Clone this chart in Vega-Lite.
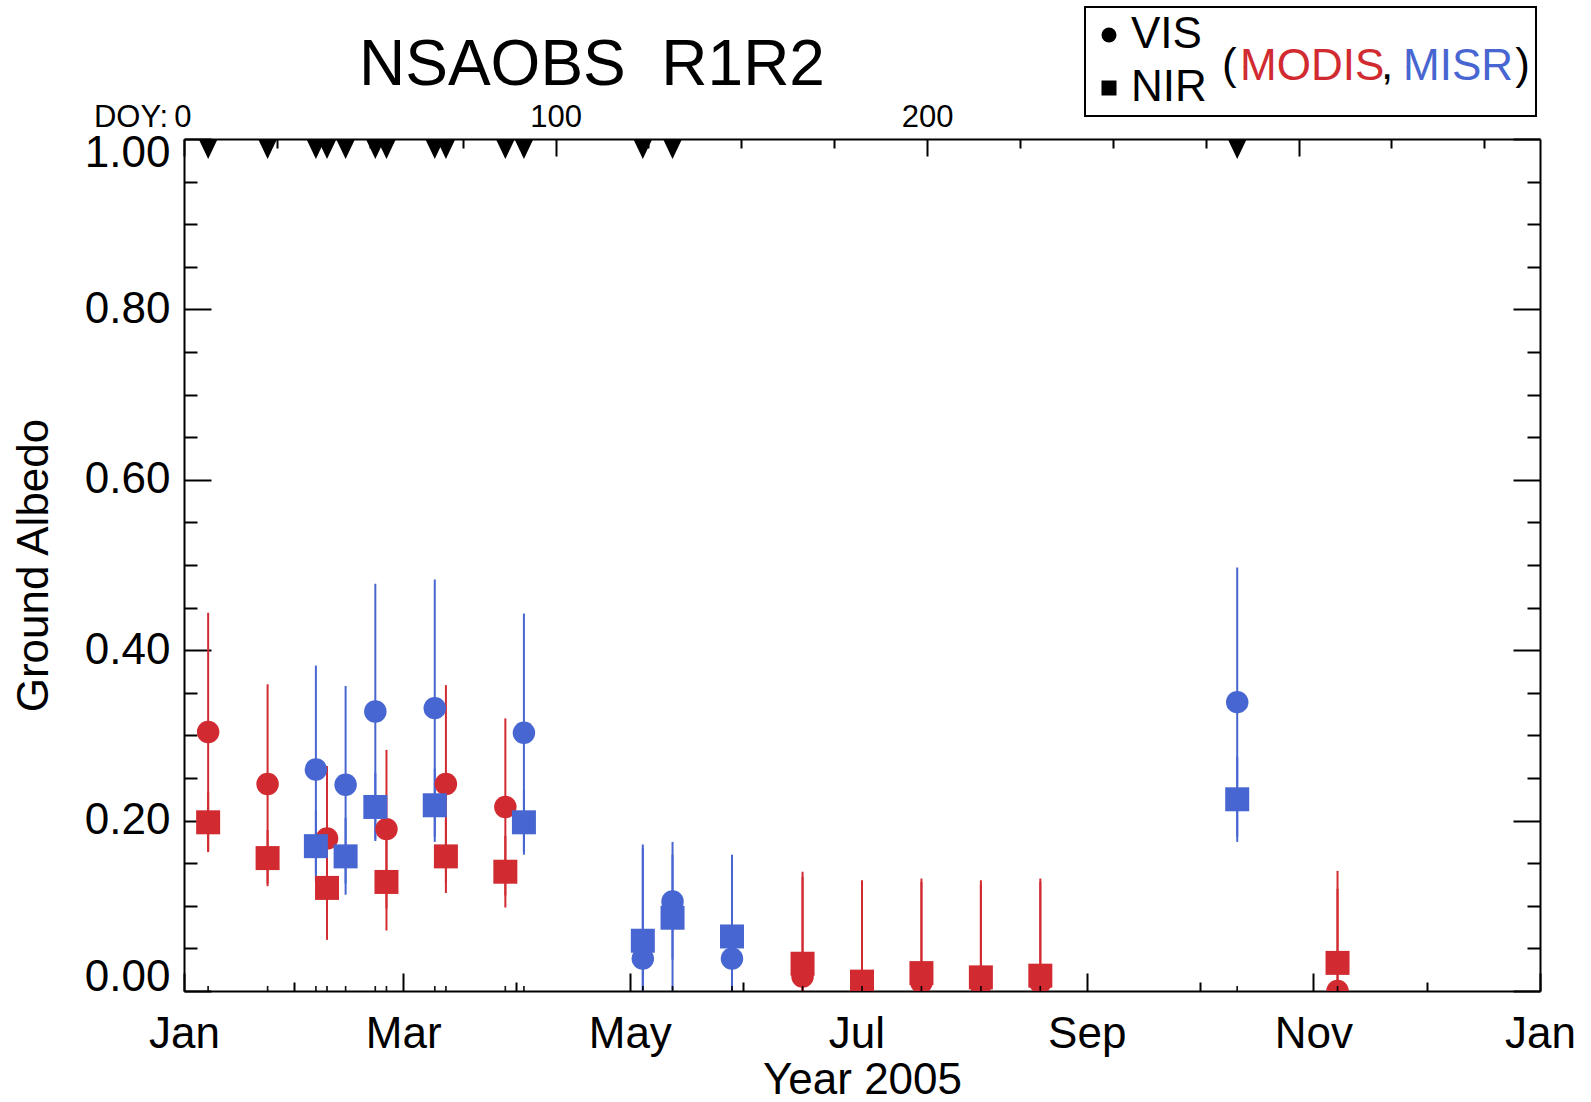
{
  "$schema": "https://vega.github.io/schema/vega-lite/v6.json",
  "width": 1356,
  "height": 852,
  "autosize": {"type": "none"},
  "padding": {"left": 184, "top": 139, "right": 51, "bottom": 111},
  "background": "white",
  "title": {
    "text": "NSAOBS \u00a0R1R2",
    "fontSize": 64,
    "font": "Liberation Sans",
    "fontWeight": "normal",
    "color": "black",
    "anchor": "start",
    "frame": "group",
    "dx": 175,
    "offset": -143,
    "baseline": "alphabetic"
  },
  "config": {
    "font": "Liberation Sans",
    "view": {"stroke": null},
    "axis": {
      "grid": false,
      "domainColor": "black",
      "domainWidth": 2,
      "tickColor": "black",
      "tickWidth": 2,
      "labelColor": "black",
      "labelFont": "Liberation Sans",
      "labelFontSize": 44,
      "labelOverlap": false,
      "labelBound": false,
      "titleColor": "black",
      "titleFont": "Liberation Sans",
      "titleFontSize": 44,
      "titleFontWeight": "normal"
    },
    "legend": {
      "symbolBaseFillColor": "black",
      "symbolBaseStrokeColor": "black",
      "strokeWidth": 2
    }
  },
  "datasets": {
    "obs": [
      {"doy": 6.5, "sensor": "MODIS", "band": "VIS", "val": 0.304, "lo": 0.164, "hi": 0.444},
      {"doy": 22.5, "sensor": "MODIS", "band": "VIS", "val": 0.243, "lo": 0.126, "hi": 0.360},
      {"doy": 38.5, "sensor": "MODIS", "band": "VIS", "val": 0.179, "lo": 0.094, "hi": 0.264},
      {"doy": 54.5, "sensor": "MODIS", "band": "VIS", "val": 0.190, "lo": 0.097, "hi": 0.283},
      {"doy": 70.5, "sensor": "MODIS", "band": "VIS", "val": 0.243, "lo": 0.127, "hi": 0.359},
      {"doy": 86.5, "sensor": "MODIS", "band": "VIS", "val": 0.216, "lo": 0.112, "hi": 0.320},
      {"doy": 166.5, "sensor": "MODIS", "band": "VIS", "val": 0.017, "lo": -0.100, "hi": 0.134},
      {"doy": 182.5, "sensor": "MODIS", "band": "VIS", "val": 0.005, "lo": -0.110, "hi": 0.120},
      {"doy": 198.5, "sensor": "MODIS", "band": "VIS", "val": 0.010, "lo": -0.110, "hi": 0.128},
      {"doy": 214.5, "sensor": "MODIS", "band": "VIS", "val": 0.008, "lo": -0.110, "hi": 0.125},
      {"doy": 230.5, "sensor": "MODIS", "band": "VIS", "val": 0.010, "lo": -0.110, "hi": 0.128},
      {"doy": 310.5, "sensor": "MODIS", "band": "VIS", "val": 0.000, "lo": -0.120, "hi": 0.120},
      {"doy": 6.5, "sensor": "MODIS", "band": "NIR", "val": 0.198, "lo": 0.163, "hi": 0.233},
      {"doy": 22.5, "sensor": "MODIS", "band": "NIR", "val": 0.156, "lo": 0.123, "hi": 0.189},
      {"doy": 38.5, "sensor": "MODIS", "band": "NIR", "val": 0.121, "lo": 0.060, "hi": 0.182},
      {"doy": 54.5, "sensor": "MODIS", "band": "NIR", "val": 0.128, "lo": 0.071, "hi": 0.185},
      {"doy": 70.5, "sensor": "MODIS", "band": "NIR", "val": 0.158, "lo": 0.115, "hi": 0.201},
      {"doy": 86.5, "sensor": "MODIS", "band": "NIR", "val": 0.140, "lo": 0.098, "hi": 0.182},
      {"doy": 166.5, "sensor": "MODIS", "band": "NIR", "val": 0.032, "lo": -0.076, "hi": 0.140},
      {"doy": 182.5, "sensor": "MODIS", "band": "NIR", "val": 0.011, "lo": -0.108, "hi": 0.130},
      {"doy": 198.5, "sensor": "MODIS", "band": "NIR", "val": 0.021, "lo": -0.090, "hi": 0.132},
      {"doy": 214.5, "sensor": "MODIS", "band": "NIR", "val": 0.016, "lo": -0.098, "hi": 0.130},
      {"doy": 230.5, "sensor": "MODIS", "band": "NIR", "val": 0.018, "lo": -0.096, "hi": 0.132},
      {"doy": 310.5, "sensor": "MODIS", "band": "NIR", "val": 0.033, "lo": -0.075, "hi": 0.141},
      {"doy": 35.5, "sensor": "MISR", "band": "VIS", "val": 0.260, "lo": 0.138, "hi": 0.382},
      {"doy": 43.5, "sensor": "MISR", "band": "VIS", "val": 0.242, "lo": 0.126, "hi": 0.358},
      {"doy": 51.5, "sensor": "MISR", "band": "VIS", "val": 0.328, "lo": 0.178, "hi": 0.478},
      {"doy": 67.5, "sensor": "MISR", "band": "VIS", "val": 0.332, "lo": 0.181, "hi": 0.483},
      {"doy": 91.5, "sensor": "MISR", "band": "VIS", "val": 0.303, "lo": 0.163, "hi": 0.443},
      {"doy": 123.5, "sensor": "MISR", "band": "VIS", "val": 0.038, "lo": -0.096, "hi": 0.172},
      {"doy": 131.5, "sensor": "MISR", "band": "VIS", "val": 0.105, "lo": 0.037, "hi": 0.175},
      {"doy": 147.5, "sensor": "MISR", "band": "VIS", "val": 0.038, "lo": -0.084, "hi": 0.160},
      {"doy": 283.5, "sensor": "MISR", "band": "VIS", "val": 0.339, "lo": 0.181, "hi": 0.497},
      {"doy": 35.5, "sensor": "MISR", "band": "NIR", "val": 0.170, "lo": 0.128, "hi": 0.212},
      {"doy": 43.5, "sensor": "MISR", "band": "NIR", "val": 0.158, "lo": 0.113, "hi": 0.203},
      {"doy": 51.5, "sensor": "MISR", "band": "NIR", "val": 0.216, "lo": 0.176, "hi": 0.256},
      {"doy": 67.5, "sensor": "MISR", "band": "NIR", "val": 0.218, "lo": 0.175, "hi": 0.261},
      {"doy": 91.5, "sensor": "MISR", "band": "NIR", "val": 0.198, "lo": 0.160, "hi": 0.236},
      {"doy": 123.5, "sensor": "MISR", "band": "NIR", "val": 0.059, "lo": -0.050, "hi": 0.168},
      {"doy": 131.5, "sensor": "MISR", "band": "NIR", "val": 0.086, "lo": -0.010, "hi": 0.160},
      {"doy": 147.5, "sensor": "MISR", "band": "NIR", "val": 0.064, "lo": -0.020, "hi": 0.148},
      {"doy": 283.5, "sensor": "MISR", "band": "NIR", "val": 0.225, "lo": 0.175, "hi": 0.275}
    ],
    "flags": [
      {"doy": 6.5}, {"doy": 22.5}, {"doy": 35.5}, {"doy": 38.5}, {"doy": 43.5},
      {"doy": 51.5}, {"doy": 54.5}, {"doy": 67.5}, {"doy": 70.5}, {"doy": 86.5},
      {"doy": 91.5}, {"doy": 123.5}, {"doy": 131.5}, {"doy": 283.5}
    ]
  },
  "layer": [
    {
      "data": {"name": "obs"},
      "mark": {"type": "rule", "strokeWidth": 2, "clip": true},
      "encoding": {
        "x": {"field": "doy", "type": "quantitative", "scale": {"domain": [0, 365], "nice": false, "zero": false}, "axis": null},
        "y": {"field": "lo", "type": "quantitative", "scale": {"domain": [0, 1], "nice": false}, "axis": null},
        "y2": {"field": "hi"},
        "color": {"field": "sensor", "type": "nominal", "scale": {"domain": ["MODIS", "MISR"], "range": ["#D12B31", "#4766D1"]},
          "legend": {
            "title": null, "orient": "none", "direction": "horizontal", "legendX": 1038, "legendY": -94,
            "symbolOpacity": 0, "symbolSize": 1, "symbolStrokeWidth": 0, "labelOffset": -26, "columnPadding": 0,
            "padding": 0, "labelFontSize": 44, "labelLimit": 1000,
            "labelColor": {"expr": "datum.value === 'MODIS' ? '#D12B31' : '#4766D1'"}
          }
        }
      }
    },
    {
      "data": {"name": "obs"},
      "transform": [{"filter": "datum.band === 'VIS'"}],
      "mark": {"type": "point", "filled": true, "opacity": 1, "size": 505, "strokeWidth": 0, "clip": true},
      "encoding": {
        "x": {"field": "doy", "type": "quantitative", "axis": null},
        "y": {"field": "val", "type": "quantitative", "axis": null},
        "shape": {"datum": "VIS", "type": "nominal", "scale": {"domain": ["VIS", "NIR"], "range": ["circle", "square"]},
          "legend": {
            "title": "(\u2003\u2003\u2003\u2008, \u2003\u2003\u2002)",
            "titleOrient": "right", "titleAnchor": "middle", "titleBaseline": "line-top", "titleLineHeight": 8,
            "titleFontSize": 44, "titleFontWeight": "normal", "titleColor": "black", "titlePadding": 15, "titleLimit": 1000,
            "orient": "none", "legendX": 901, "legendY": -132,
            "strokeColor": "black", "padding": 6, "rowPadding": 9,
            "symbolSize": 225, "symbolFillColor": "black", "symbolStrokeColor": "black", "symbolStrokeWidth": 0,
            "symbolOffset": -4, "labelOffset": 0,
            "labelFontSize": 44, "labelColor": "black", "labelLimit": 1000
          }
        },
        "color": {"field": "sensor", "type": "nominal"}
      }
    },
    {
      "data": {"name": "obs"},
      "transform": [{"filter": "datum.band === 'NIR'"}],
      "mark": {"type": "point", "filled": true, "opacity": 1, "size": 576, "strokeWidth": 0, "clip": true},
      "encoding": {
        "x": {"field": "doy", "type": "quantitative", "scale": {"domain": [0, 365], "nice": false, "zero": false},
          "axis": {
            "orient": "bottom",
            "values": [0, 29.5, 59, 89.5, 120, 150.5, 181, 212, 243, 273.5, 304, 334.5, 365],
            "labelExpr": "(datum.value == 0 || datum.value == 365) ? 'Jan' : datum.value == 59 ? 'Mar' : datum.value == 120 ? 'May' : datum.value == 181 ? 'Jul' : datum.value == 243 ? 'Sep' : datum.value == 304 ? 'Nov' : ''",
            "tickSize": {"condition": {"test": "indexof([0, 59, 120, 181, 243, 304, 365], datum.value) >= 0", "value": -18}, "value": -9},
            "labelPadding": 39,
            "labelFlush": false,
            "title": "Year 2005",
            "titleY": 102,
            "titleBaseline": "alphabetic"
          }
        },
        "y": {"field": "val", "type": "quantitative", "scale": {"domain": [0, 1], "nice": false},
          "axis": {
            "orient": "left",
            "values": [0, 0.05, 0.1, 0.15, 0.2, 0.25, 0.3, 0.35, 0.4, 0.45, 0.5, 0.55, 0.6, 0.65, 0.7, 0.75, 0.8, 0.85, 0.9, 0.95, 1],
            "labelExpr": "round(datum.value * 100) % 20 === 0 ? format(datum.value, '.2f') : ''",
            "tickSize": {"condition": {"test": "round(datum.value * 100) % 20 === 0", "value": -27}, "value": -13},
            "labelPadding": 41,
            "labelFlush": true,
            "labelFlushOffset": 8,
            "title": "Ground Albedo",
            "titleX": -137,
            "titleY": 426,
            "titleAngle": -90,
            "titleAlign": "center",
            "titleBaseline": "alphabetic"
          }
        },
        "shape": {"datum": "NIR", "type": "nominal"},
        "color": {"field": "sensor", "type": "nominal"}
      }
    },
    {
      "data": {"name": "obs"},
      "mark": {"type": "tick", "orient": "vertical", "size": 10, "thickness": 1.5, "color": "black", "clip": true},
      "encoding": {
        "x": {"field": "doy", "type": "quantitative", "axis": null},
        "y": {"datum": 0, "type": "quantitative", "axis": null}
      }
    },
    {
      "data": {"name": "flags"},
      "mark": {"type": "point", "shape": "M-1,0L1,0L0,2.1Z", "filled": true, "color": "black", "opacity": 1, "size": 361, "strokeWidth": 0},
      "encoding": {
        "x": {"field": "doy", "type": "quantitative", "scale": {"domain": [0, 365], "nice": false, "zero": false},
          "axis": {
            "orient": "top",
            "values": [0, 25, 50, 75, 100, 125, 150, 175, 200, 225, 250, 275, 300, 325, 350],
            "format": "d",
            "labelExpr": "datum.value === 0 ? 'DOY:\u20090' : (datum.value === 100 || datum.value === 200) ? datum.label : ''",
            "tickSize": {"condition": {"test": "datum.value % 100 === 0", "value": -17}, "value": -9},
            "labelFontSize": 31,
            "labelPadding": 30,
            "labelBaseline": "alphabetic",
            "labelAlign": {"condition": {"test": "datum.value === 0", "value": "right"}, "value": "center"},
            "labelOffset": {"condition": {"test": "datum.value === 0", "value": 7}, "value": 0},
            "title": null
          }
        },
        "y": {"datum": 1, "type": "quantitative", "scale": {"domain": [0, 1], "nice": false},
          "axis": {
            "orient": "right",
            "values": [0, 0.05, 0.1, 0.15, 0.2, 0.25, 0.3, 0.35, 0.4, 0.45, 0.5, 0.55, 0.6, 0.65, 0.7, 0.75, 0.8, 0.85, 0.9, 0.95, 1],
            "labels": false,
            "tickSize": {"condition": {"test": "round(datum.value * 100) % 20 === 0", "value": -27}, "value": -13},
            "title": null
          }
        }
      }
    }
  ],
  "resolve": {"axis": {"x": "independent", "y": "independent"}}
}
